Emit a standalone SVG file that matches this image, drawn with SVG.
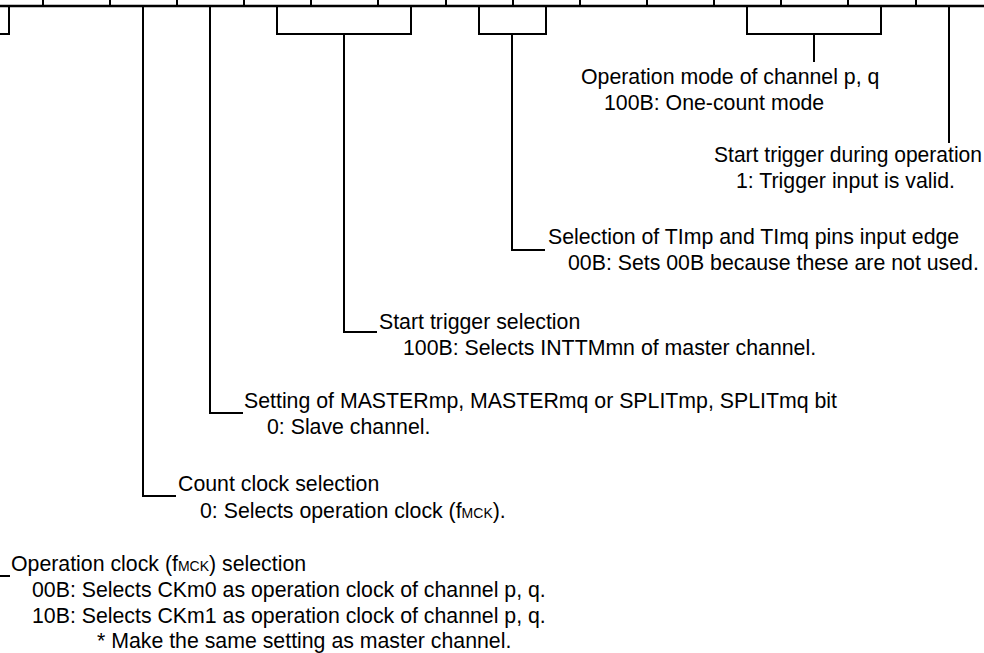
<svg xmlns="http://www.w3.org/2000/svg" width="984" height="653" viewBox="0 0 984 653">
<style>
.t{font-family:"Liberation Sans",Arial,sans-serif;font-size:21.3px;fill:#000}
.s{font-size:14px}
.ln{stroke:#000;stroke-width:2;fill:none}
.bar{stroke:#000;stroke-width:2.7;fill:none}
</style>
<rect width="984" height="653" fill="#fff"/>
<g id="register">
<line class="bar" x1="0" y1="6" x2="984" y2="6"/>
<path class="ln" d="M43 0V6M110 0V6M177 0V6M244 0V6M311 0V6M378 0V6M446 0V6M513 0V6M580 0V6M647 0V6M714 0V6M781 0V6M848 0V6M916 0V6"/>
</g>
<g id="connectors">
<path class="ln" d="M9 6V34H0"/>
<path class="ln" d="M0 576H10"/>
<path class="ln" d="M143 6V496H176"/>
<path class="ln" d="M210 6V413H243"/>
<path class="ln" d="M277 6V34H412M411 6V34M344 34V332H377"/>
<path class="ln" d="M479 6V34H547M546 6V34M512 34V250H545"/>
<path class="ln" d="M747 6V34H882M881 6V34M814 34V62"/>
<path class="ln" d="M949 6V143"/>
</g>
<g id="op-mode">
<text class="t" x="581" y="84">Operation mode of channel p, q</text>
<text class="t" x="604" y="110">100B: One-count mode</text>
</g>
<g id="start-trigger-op">
<text class="t" x="714" y="162" textLength="268" lengthAdjust="spacingAndGlyphs">Start trigger during operation</text>
<text class="t" x="736" y="188">1: Trigger input is valid.</text>
</g>
<g id="input-edge">
<text class="t" x="548" y="244">Selection of TImp and TImq pins input edge</text>
<text class="t" x="568" y="270">00B: Sets 00B because these are not used.</text>
</g>
<g id="start-trigger-sel">
<text class="t" x="379" y="329">Start trigger selection</text>
<text class="t" x="403" y="355">100B: Selects INTTMmn of master channel.</text>
</g>
<g id="master-setting">
<text class="t" x="244" y="408">Setting of MASTERmp, MASTERmq or SPLITmp, SPLITmq bit</text>
<text class="t" x="267" y="434">0: Slave channel.</text>
</g>
<g id="count-clock">
<text class="t" x="178" y="491">Count clock selection</text>
<text class="t" x="200" y="518">0: Selects operation clock (f<tspan class="s">MCK</tspan>).</text>
</g>
<g id="op-clock">
<text class="t" x="11" y="571">Operation clock (f<tspan class="s">MCK</tspan>) selection</text>
<text class="t" x="32" y="597">00B: Selects CKm0 as operation clock of channel p, q.</text>
<text class="t" x="32" y="623">10B: Selects CKm1 as operation clock of channel p, q.</text>
<text class="t" x="97" y="648">* Make the same setting as master channel.</text>
</g>
</svg>
